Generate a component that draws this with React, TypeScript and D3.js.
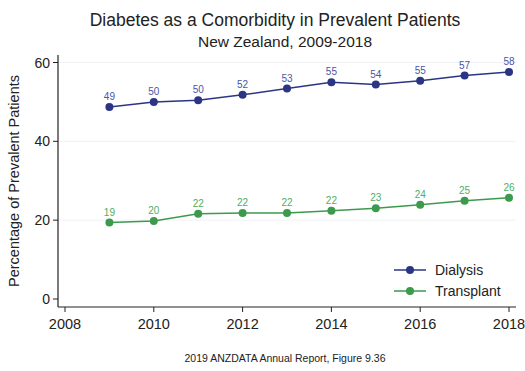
import * as d3 from 'd3';

const YEARS = [2009, 2010, 2011, 2012, 2013, 2014, 2015, 2016, 2017, 2018];
const DIALYSIS = [48.7, 50.0, 50.4, 51.8, 53.4, 55.0, 54.4, 55.4, 56.7, 57.6];
const TRANSPLANT = [19.4, 19.8, 21.6, 21.8, 21.8, 22.4, 23.0, 23.9, 24.9, 25.7];
const X_TICKS = [2008, 2010, 2012, 2014, 2016, 2018];
const Y_TICKS = [0, 20, 40, 60];

const SERIES = [
  { name: 'Dialysis', values: DIALYSIS, color: '#2b3584', label: '#4a54a8' },
  { name: 'Transplant', values: TRANSPLANT, color: '#3c9a4c', label: '#4fae62' },
];

const WIDTH = 525;
const HEIGHT = 371;
const LEFT = 58;
const RIGHT = 516;
const BOTTOM = 307;
const FONT = 'Liberation Sans, Arial, sans-serif';

export default function App() {
  const x = d3.scaleLinear().domain([2008, 2018]).range([65, 509]);
  const y = d3.scaleLinear().domain([0, 60]).range([299, 62.5]);
  const line = d3
    .line<number>()
    .x((_, i) => x(YEARS[i]))
    .y((v) => y(v));

  return (
    <svg
      width={WIDTH}
      height={HEIGHT}
      style={{ position: 'absolute', left: 0, top: 0, background: '#fff', fontFamily: FONT }}
    >
      <text x={275} y={26} textAnchor='middle' fontSize={17.5} fill='#222'>
        Diabetes as a Comorbidity in Prevalent Patients
      </text>
      <text x={285} y={47} textAnchor='middle' fontSize={15.5} fill='#222'>
        New Zealand, 2009-2018
      </text>

      {Y_TICKS.map((t) => (
        <g key={t}>
          {t > 0 && (
            <line x1={LEFT} x2={RIGHT} y1={y(t)} y2={y(t)} stroke='#eef1f3' strokeWidth={1} />
          )}
          <line x1={LEFT - 5} x2={LEFT} y1={y(t)} y2={y(t)} stroke='#222' />
          <text x={LEFT - 8} y={y(t) + 5} textAnchor='end' fontSize={14} fill='#222'>
            {t}
          </text>
        </g>
      ))}
      {X_TICKS.map((t) => (
        <g key={t}>
          <line x1={x(t)} x2={x(t)} y1={BOTTOM} y2={BOTTOM + 5} stroke='#222' />
          <text x={x(t)} y={BOTTOM + 22} textAnchor='middle' fontSize={14.5} fill='#222'>
            {t}
          </text>
        </g>
      ))}
      <line x1={LEFT} x2={LEFT} y1={55} y2={BOTTOM} stroke='#222' strokeWidth={1.2} />
      <line x1={LEFT} x2={RIGHT} y1={BOTTOM} y2={BOTTOM} stroke='#222' strokeWidth={1.2} />

      <text
        transform={`translate(19,${(55 + BOTTOM) / 2}) rotate(-90)`}
        textAnchor='middle'
        fontSize={14.5}
        fill='#222'
      >
        Percentage of Prevalent Patients
      </text>

      {SERIES.map((s) => (
        <g key={s.name}>
          <path d={line(s.values) ?? ''} fill='none' stroke={s.color} strokeWidth={1.5} />
          {s.values.map((v, i) => (
            <g key={i}>
              <circle cx={x(YEARS[i])} cy={y(v)} r={4} fill={s.color} />
              <text
                x={x(YEARS[i])}
                y={y(v) - 7}
                textAnchor='middle'
                fontSize={10}
                fill={s.label}
              >
                {Math.round(v)}
              </text>
            </g>
          ))}
        </g>
      ))}

      {SERIES.map((s, i) => (
        <g key={s.name} transform={`translate(394,${270 + i * 21})`}>
          <line x1={0} x2={32} y1={0} y2={0} stroke={s.color} strokeWidth={1.5} />
          <circle cx={16} cy={0} r={4} fill={s.color} />
          <text x={41} y={5} fontSize={14} fill='#222'>
            {s.name}
          </text>
        </g>
      ))}

      <text x={285} y={362} textAnchor='middle' fontSize={10.5} fill='#222'>
        2019 ANZDATA Annual Report, Figure 9.36
      </text>
    </svg>
  );
}
